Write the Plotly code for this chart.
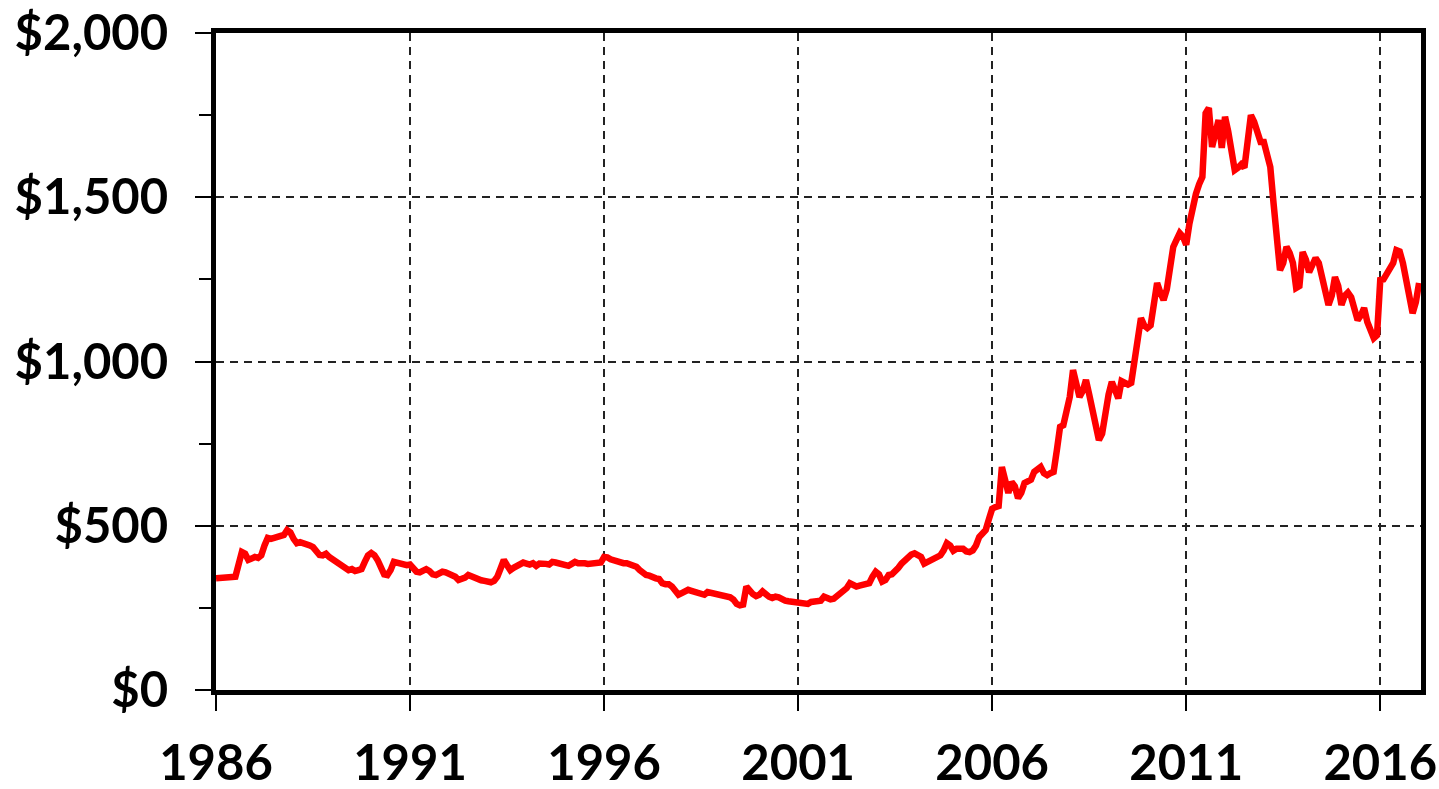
import plotly.graph_objects as go

# Monthly gold price (USD/oz)
y1986 = [340, 340, 342, 342, 343, 344, 345, 380, 420, 415, 396, 400]
y1987 = [405, 402, 410, 440, 463, 460, 462, 465, 468, 472, 487, 480]
y1988 = [460, 447, 450, 448, 445, 440, 435, 425, 411, 410, 415, 405]
y1989 = [398, 390, 385, 382, 372, 365, 368, 362, 365, 368, 390, 410]
y1990 = [417, 410, 395, 372, 352, 350, 365, 390, 388, 382, 380, 380]
y1991 = [382, 370, 360, 358, 362, 368, 362, 352, 350, 356, 360, 358]
y1992 = [355, 350, 345, 335, 338, 342, 350, 345, 342, 340, 334, 332]
y1993 = [330, 328, 332, 345, 370, 396, 380, 365, 372, 378, 385, 388]
y1994 = [385, 382, 386, 378, 385, 386, 384, 382, 390, 388, 385, 382]
y1995 = [380, 378, 384, 390, 386, 388, 386, 384, 385, 384, 386, 388]
y1996 = [405, 404, 398, 394, 392, 388, 386, 386, 384, 380, 375, 365]
y1997 = [356, 350, 348, 342, 340, 338, 325, 322, 322, 315, 300, 290]
y1998 = [295, 300, 305, 302, 298, 296, 294, 290, 298, 296, 294, 290]
y1999 = [288, 285, 284, 282, 275, 262, 258, 260, 315, 300, 292, 286]
y2000 = [290, 300, 290, 284, 280, 284, 282, 276, 272, 270, 268, 266]
y2001 = [265, 264, 262, 262, 268, 270, 268, 272, 284, 280, 276, 278]
y2002 = [285, 295, 300, 310, 325, 320, 315, 318, 320, 318, 325, 345]
y2003 = [360, 352, 330, 335, 350, 352, 360, 372, 385, 395, 405, 412]
y2004 = [416, 408, 405, 385, 390, 392, 398, 400, 410, 425, 447, 440]
y2005 = [424, 430, 428, 430, 422, 420, 425, 440, 466, 475, 487, 520]
y2006 = [552, 557, 560, 679, 640, 600, 633, 620, 584, 600, 630, 635]
y2007 = [640, 664, 670, 679, 660, 654, 660, 664, 730, 801, 806, 850]
y2008 = [892, 974, 930, 892, 910, 944, 900, 852, 820, 761, 780, 860]
y2009 = [900, 938, 910, 888, 940, 935, 930, 935, 1000, 1044, 1132, 1110]
y2010 = [1102, 1110, 1180, 1239, 1210, 1187, 1220, 1300, 1349, 1370, 1391, 1380]
y2011 = [1355, 1420, 1470, 1510, 1540, 1562, 1756, 1772, 1653, 1700, 1735, 1650]
y2012 = [1745, 1700, 1650, 1583, 1590, 1600, 1590, 1680, 1750, 1730, 1700, 1668]
y2013 = [1668, 1620, 1592, 1482, 1400, 1278, 1300, 1349, 1330, 1300, 1224, 1230]
y2014 = [1333, 1310, 1272, 1290, 1315, 1300, 1250, 1220, 1172, 1200, 1257, 1230]
y2015 = [1172, 1200, 1210, 1196, 1150, 1126, 1140, 1163, 1120, 1090, 1071, 1080]
y2016 = [1248, 1250, 1265, 1278, 1300, 1339, 1335, 1300, 1250, 1200, 1147, 1180]
y2017 = [1239]

years = list(range(1986, 2018))
yearly = [y1986, y1987, y1988, y1989, y1990, y1991, y1992, y1993, y1994, y1995,
          y1996, y1997, y1998, y1999, y2000, y2001, y2002, y2003, y2004, y2005,
          y2006, y2007, y2008, y2009, y2010, y2011, y2012, y2013, y2014, y2015,
          y2016, y2017]

x_vals, prices = [], []
for yr, vals in zip(years, yearly):
    for m, v in enumerate(vals):
        x_vals.append(yr + m / 12.0)
        prices.append(v)

x_ticks = [1986, 1991, 1996, 2001, 2006, 2011, 2016]
y_ticks = [0, 500, 1000, 1500, 2000]
y_labels = ["$0", "$500", "$1,000", "$1,500", "$2,000"]

fig = go.Figure()
fig.add_trace(go.Scatter(x=x_vals, y=prices, mode="lines",
                         line=dict(color="#FF0000", width=6.5), hoverinfo="x+y"))

font = dict(family="Lato, 'Open Sans', sans-serif", size=49, color="#000000", weight="bold")

fig.update_layout(
    width=1439, height=789,
    margin=dict(l=216, r=18, t=33, b=99),
    paper_bgcolor="white", plot_bgcolor="white",
    showlegend=False,
    font=font,
)
fig.update_xaxes(
    range=[1986, 2017.05], tickmode="array", tickvals=x_ticks,
    ticktext=[str(t) for t in x_ticks], automargin=False,
    ticklabeloverflow="allow",
    showline=True, linecolor="black", linewidth=5, mirror=True,
    ticks="outside", ticklen=16, tickwidth=1.5, tickcolor="black",
    showgrid=True, gridcolor="#222222", gridwidth=1.5, griddash="8px,6px",
    zeroline=False, tickfont=font, ticklabelstandoff=10,
)
fig.update_yaxes(
    range=[0, 2000], tickmode="array", tickvals=y_ticks, ticktext=y_labels,
    automargin=False, ticklabeloverflow="allow",
    showline=True, linecolor="black", linewidth=5, mirror=True,
    ticks="outside", ticklen=16, tickwidth=1.5, tickcolor="black",
    showgrid=True, gridcolor="#222222", gridwidth=1.5, griddash="8px,6px",
    zeroline=False, tickfont=font, ticklabelstandoff=17,
    minor=dict(tickmode="linear", dtick=250, ticks="outside", ticklen=12,
               tickwidth=1.5, tickcolor="black", showgrid=False),
)

fig.write_html(
    "out.html",
    config={"displayModeBar": False},
    post_script="document.body.style.margin='0';document.body.style.overflow='hidden';",
)
